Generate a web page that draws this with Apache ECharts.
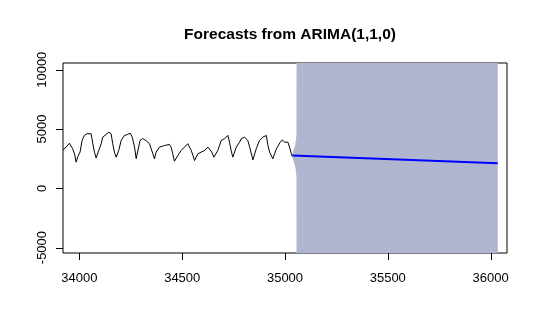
<!DOCTYPE html>
<html>
<head>
<meta charset="utf-8">
<script src="https://cdn.jsdelivr.net/npm/echarts@6/dist/echarts.min.js"></script>
<style>html,body{margin:0;padding:0;background:#fff;}#c{width:540px;height:333px;}</style>
</head>
<body>
<div id="c"></div>
<script>
const titleText = 'Forecasts from ARIMA(1,1,0)';
const xTicks = [34000, 34500, 35000, 35500, 36000];
const yTicks = [-5000, 0, 5000, 10000];

const obsX = [33920,33935,33951,33960,33967,33976,33984,33992,34003,34013,34024,34036,34045,34057,34065,34073,34081,34094,34106,34113,34130,34143,34154,34162,34170,34179,34191,34203,34219,34235,34247,34257,34268,34276,34287,34295,34308,34325,34341,34357,34365,34373,34389,34414,34438,34446,34454,34462,34479,34495,34511,34527,34535,34544,34552,34560,34576,34592,34608,34625,34633,34644,34654,34662,34673,34690,34706,34714,34722,34730,34738,34746,34763,34779,34787,34803,34811,34819,34828,34844,34860,34876,34892,34909,34917,34925,34941,34958,34977,34987,34998,35006,35014,35022,35031,35035];
const obsY = [3250,3470,3800,3700,3330,2910,2200,2680,3050,4040,4460,4600,4740,4600,3760,3050,2570,3190,3760,4310,4540,4740,4600,3760,3050,2620,3190,4040,4460,4540,4650,4310,3470,2500,3400,4040,4200,4000,3760,2910,2490,3050,3470,3610,3700,3470,2910,2280,2770,3190,3470,3760,3890,3190,2770,2340,2910,3050,3190,3470,3610,3050,2620,2570,3190,4040,4180,4040,4460,3890,3190,2620,3470,3890,4180,4310,4460,4040,3470,2400,3330,4040,4310,4460,3610,3050,2490,3330,3890,4090,3890,4040,3890,3470,2910,2700];

const meanX = [35036, 36035];
const meanY = [2760, 2120];

const bandX = [35036, 35050, 35056, 35061, 35500, 36035];
const bandUpper = [2900, 3700, 4500, 200000, 2000000, 5000000];
const bandLower = [2620, 1800, 1000, -200000, -2000000, -5000000];

const obsData = obsX.map((x, i) => [x, obsY[i]]);
const meanData = meanX.map((x, i) => [x, meanY[i]]);
const X_MIN = 33920, X_MAX = 36080, Y_MIN = -5458, Y_MAX = 10568;

const chart = echarts.init(document.getElementById('c'), null, {renderer: 'canvas'});
chart.setOption({
  animation: false,
  backgroundColor: '#fff',
  title: {
    text: titleText, left: 285, top: 22, textAlign: 'center',
    textStyle: {fontFamily: 'Liberation Sans', fontWeight: 'bold', fontSize: 15.5, color: '#000'}
  },
  grid: {left: 63, right: 33, top: 63, bottom: 80, show: true, borderColor: '#000', borderWidth: 1, backgroundColor: 'transparent'},
  xAxis: {
    type: 'value', min: X_MIN, max: X_MAX,
    axisLine: {show: false, onZero: false},
    splitLine: {show: false},
    axisTick: {show: false},
    axisLabel: {customValues: xTicks, margin: 19, fontFamily: 'Liberation Sans', fontSize: 13, color: '#000',
      formatter: v => String(v)}
  },
  yAxis: {
    type: 'value', min: Y_MIN, max: Y_MAX,
    axisLine: {show: false, onZero: false},
    splitLine: {show: false},
    axisTick: {show: false},
    axisLabel: {customValues: yTicks, rotate: 90, margin: 14, fontFamily: 'Liberation Sans', fontSize: 13, color: '#000',
      formatter: v => String(v)}
  },
  series: [
    {
      type: 'custom', clip: true, silent: true,
      data: [[bandX[0], bandUpper[0]]],
      renderItem: function (params, api) {
        const pts = [];
        for (let i = 0; i < bandX.length; i++) pts.push(api.coord([bandX[i], bandUpper[i]]));
        for (let i = bandX.length - 1; i >= 0; i--) pts.push(api.coord([bandX[i], bandLower[i]]));
        const cs = params.coordSys;
        return {
          type: 'polygon', shape: {points: pts}, style: {fill: '#B0B5D0'},
          clipPath: {type: 'rect', shape: {x: cs.x, y: cs.y, width: cs.width, height: cs.height}}
        };
      }
    },
    {
      type: 'line', data: obsData, showSymbol: false, clip: true,
      lineStyle: {color: '#000', width: 1}
    },
    {
      type: 'line', data: meanData, showSymbol: false, clip: true,
      lineStyle: {color: '#0000FF', width: 2}
    },
    {
      type: 'custom', clip: false, silent: true, z: 5,
      data: xTicks.map(v => [v, Y_MIN]),
      renderItem: function (params, api) {
        const p = api.coord([api.value(0), api.value(1)]);
        const x = Math.round(p[0]) + 0.5;
        return {type: 'line', shape: {x1: x, y1: p[1], x2: x, y2: p[1] + 7}, style: {stroke: '#000', lineWidth: 1}};
      }
    },
    {
      type: 'custom', clip: false, silent: true, z: 5,
      data: yTicks.map(v => [X_MIN, v]),
      renderItem: function (params, api) {
        const p = api.coord([api.value(0), api.value(1)]);
        const y = Math.round(p[1]) + 0.5;
        return {type: 'line', shape: {x1: p[0] - 7, y1: y, x2: p[0], y2: y}, style: {stroke: '#000', lineWidth: 1}};
      }
    }
  ]
});
</script>
</body>
</html>
